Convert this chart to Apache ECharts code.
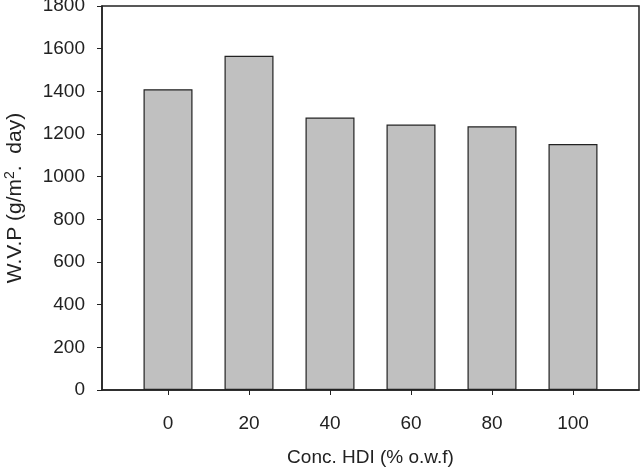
<!DOCTYPE html>
<html>
<head>
<meta charset="utf-8">
<script src="https://cdn.jsdelivr.net/npm/echarts@6/dist/echarts.min.js"></script>
<style>
html,body{margin:0;padding:0;background:#fff;}
#main{width:643px;height:467px;}
</style>
</head>
<body>
<div id="main"></div>
<script>
// HDI concentration (% o.w.f) and water vapour permeability
var concHDI = [0, 20, 40, 60, 80, 100];
var wvp = [1410, 1567, 1277, 1244, 1236, 1153];

var myChart = echarts.init(document.getElementById('main'));

var font = 'Liberation Sans, Arial, sans-serif';

var option = {
    backgroundColor: '#ffffff',
    animation: false,
    grid: {
        left: 102, right: 4, top: 6, bottom: 77,
        outerBoundsMode: 'none',
        containLabel: false,
        show: true,
        borderColor: '#222',
        borderWidth: 1.5
    },
    xAxis: {
        type: 'value',
        min: -16.3,
        max: 116.3,
        name: 'Conc. HDI (% o.w.f)',
        nameLocation: 'middle',
        nameGap: 58,
        nameTextStyle: { fontFamily: font, fontSize: 19, color: '#222' },
        splitLine: { show: false },
        axisLine: { onZero: false, lineStyle: { color: '#222', width: 1.5 } },
        axisTick: { show: true, length: 5, customValues: concHDI, lineStyle: { color: '#222' } },
        axisLabel: { customValues: concHDI, margin: 24, fontFamily: font, fontSize: 19, color: '#222' }
    },
    yAxis: {
        type: 'value',
        min: 0,
        max: 1800,
        interval: 200,
        name: '{a|W.V.P (g/m}{s|2}{a|.  day)}',
        nameLocation: 'middle',
        nameGap: 75,
        nameTextStyle: {
            rich: {
                a: { fontFamily: font, fontSize: 21, color: '#222' },
                s: { fontFamily: font, fontSize: 14, color: '#222', verticalAlign: 'top', padding: [0, 0, 10, 0] }
            }
        },
        splitLine: { show: false },
        axisLine: { show: true, onZero: false, lineStyle: { color: '#222', width: 1.5 } },
        axisTick: { show: true, length: 5, lineStyle: { color: '#222' } },
        axisLabel: {
            margin: 17, fontFamily: font, fontSize: 19, color: '#222',
            formatter: function (v) { return String(v); }
        }
    },
    series: [{
        type: 'bar',
        barWidth: 49,
        data: concHDI.map(function (c, i) { return [c, wvp[i]]; }),
        itemStyle: { color: '#c0c0c0', borderColor: '#222', borderWidth: 1.2 }
    }]
};

myChart.setOption(option);
</script>
</body>
</html>
